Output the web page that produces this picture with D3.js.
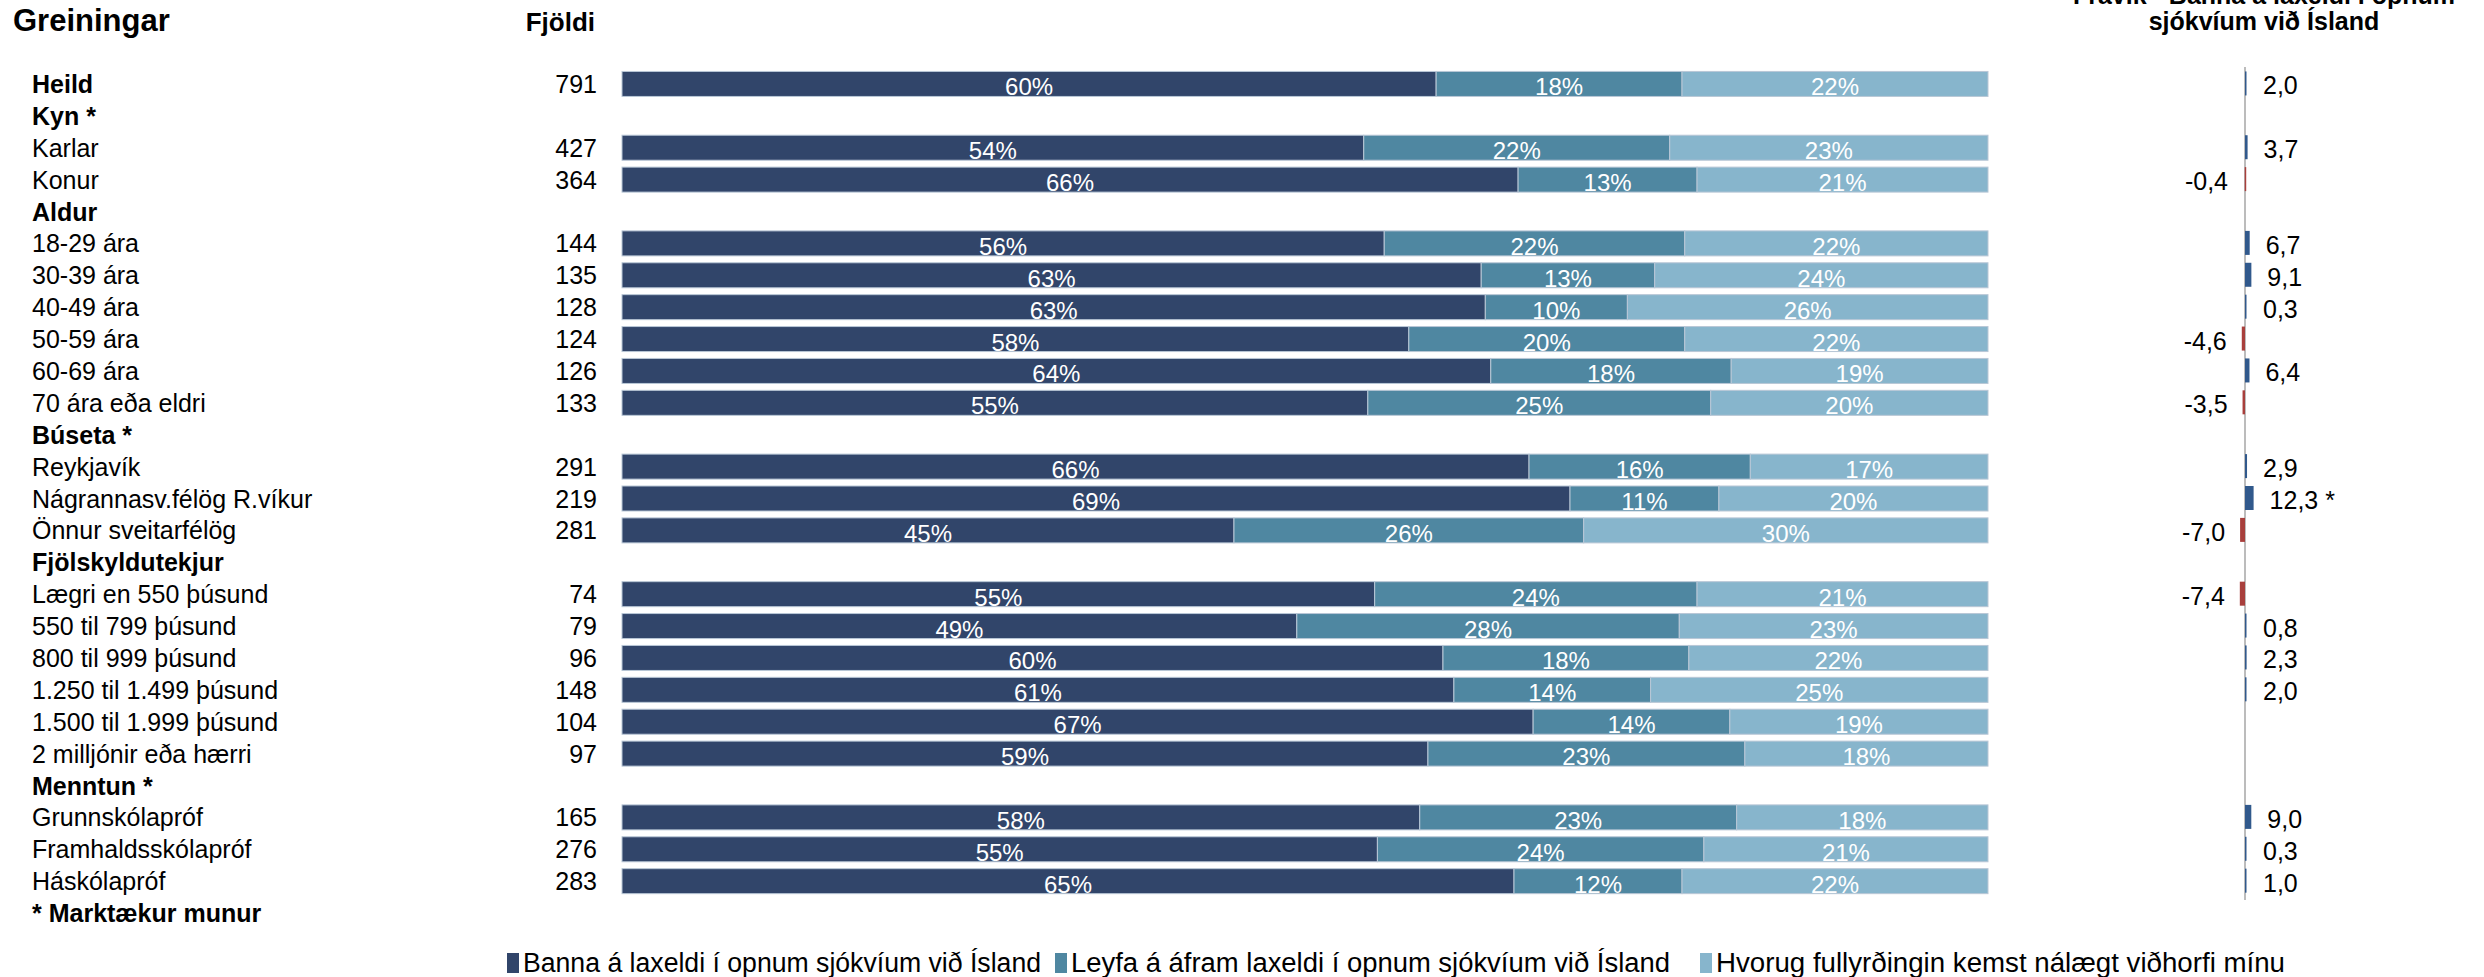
<!DOCTYPE html>
<html><head><meta charset="utf-8">
<script src="https://cdn.jsdelivr.net/npm/d3@7"></script>
<style>
html,body{margin:0;padding:0;background:#fff;}
svg{display:block;font-family:"Liberation Sans",Arial,sans-serif;}
</style></head>
<body>
<svg id="chart" width="2484" height="977"></svg>
<script>
// ---------- data ----------
const rowLabels = ["Heild","Kyn *","Karlar","Konur","Aldur","18-29 ára","30-39 ára","40-49 ára","50-59 ára","60-69 ára","70 ára eða eldri","Búseta *","Reykjavík","Nágrannasv.félög R.víkur","Önnur sveitarfélög","Fjölskyldutekjur","Lægri en 550 þúsund","550 til 799 þúsund","800 til 999 þúsund","1.250 til 1.499 þúsund","1.500 til 1.999 þúsund","2 milljónir eða hærri","Menntun *","Grunnskólapróf","Framhaldsskólapróf","Háskólapróf","* Marktækur munur"];
const boldRows = ["Heild","Kyn *","Aldur","Búseta *","Fjölskyldutekjur","Menntun *","* Marktækur munur"];
const counts = [791,null,427,364,null,144,135,128,124,126,133,null,291,219,281,null,74,79,96,148,104,97,null,165,276,283,null];
const banna  = [59.6,null,54.3,65.6,null,55.8,62.9,63.2,57.6,63.6,54.6,null,66.4,69.4,44.8,null,55.1,49.4,60.1,60.9,66.7,59.0,null,58.4,55.3,65.3,null];
const leyfa  = [18.0,null,22.4,13.1,null,22.0,12.7,10.4,20.2,17.6,25.1,null,16.2,10.9,25.6,null,23.6,28.0,18.0,14.4,14.4,23.2,null,23.2,23.9,12.3,null];
const hvorug = [22.4,null,23.3,21.3,null,22.2,24.4,26.4,22.2,18.8,20.3,null,17.4,19.7,29.6,null,21.3,22.6,21.9,24.7,18.9,17.8,null,18.4,20.8,22.4,null];
const deviation = [2.0,null,3.7,-0.4,null,6.7,9.1,0.3,-4.6,6.4,-3.5,null,2.9,12.3,-7.0,null,-7.4,0.8,2.3,2.0,null,null,null,9.0,0.3,1.0,null];
const significant = ["Nágrannasv.félög R.víkur"];
const seriesNames = ["Banna á laxeldi í opnum sjókvíum við Ísland","Leyfa á áfram laxeldi í opnum sjókvíum við Ísland","Hvorug fullyrðingin kemst nálægt viðhorfi mínu"];
const headerLeft = "Greiningar", headerCount = "Fjöldi";
const rightTitle = ["Frávik - Banna á laxeldi í opnum","sjókvíum  við Ísland"];

// ---------- layout ----------
const colors = ["#31456A","#4F87A1","#87B5CC"];
const posColor = "#31598C", negColor = "#A83F3C";
const legendX = [507, 1055, 1700];
const legendW = [518, 599, 569];
const svg = d3.select("#chart");

const rows = rowLabels.map((l,i)=>({label:l,i,count:counts[i],vals:[banna[i],leyfa[i],hvorug[i]],dev:deviation[i]}));
const y = d3.scaleBand().domain(d3.range(rows.length)).range([68,929]).padding(0);
const bh = 25;
const by = i => y(i) + (y.bandwidth()-bh)/2;
const x = d3.scaleLinear().domain([0,100]).range([622,1988]);
const x2 = d3.scaleLinear().domain([-100,100]).range([2245-70,2245+70]);

// headers
svg.append("text").attr("x",13).attr("y",31).attr("font-size",31).attr("font-weight","bold").text(headerLeft);
svg.append("text").attr("x",595).attr("y",31).attr("text-anchor","end").attr("font-size",26).attr("font-weight","bold").text(headerCount);
rightTitle.forEach((t,k)=>svg.append("text").attr("x",2264).attr("y",4+k*26).attr("text-anchor","middle")
  .attr("font-size",25).attr("font-weight","bold").text(t));

// row labels
svg.append("g").selectAll("text").data(rows).join("text")
  .attr("x",32).attr("y",d=>y(d.i)+y.bandwidth()/2+9)
  .attr("font-size",25).attr("font-weight",d=>boldRows.includes(d.label)?"bold":"normal")
  .text(d=>d.label);
svg.append("g").selectAll("text").data(rows.filter(d=>d.count!=null)).join("text")
  .attr("x",597).attr("y",d=>y(d.i)+y.bandwidth()/2+9).attr("text-anchor","end")
  .attr("font-size",25).text(d=>d.count);

// stacked bars
const segs = [];
rows.filter(d=>d.vals[0]!=null).forEach(d=>{
  const tot = d3.sum(d.vals); let c=0;
  d.vals.forEach((v,k)=>{ segs.push({i:d.i,k,v,x0:c/tot*100,x1:(c+v)/tot*100}); c+=v; });
});
const gb = svg.append("g");
gb.selectAll("rect").data(segs).join("rect")
  .attr("x",d=>x(d.x0)).attr("width",d=>x(d.x1)-x(d.x0))
  .attr("y",d=>by(d.i)).attr("height",bh)
  .attr("fill",d=>colors[d.k]).attr("stroke","#B9C7D6").attr("stroke-width",1);
gb.selectAll("text").data(segs).join("text")
  .attr("x",d=>(x(d.x0)+x(d.x1))/2).attr("y",d=>by(d.i)+bh-1)
  .attr("text-anchor","middle").attr("fill","#fff").attr("font-size",24)
  .text(d=>Math.round(d.v)+"%");

// deviation panel
const devRows = rows.filter(d=>d.dev!=null);
svg.append("line").attr("x1",x2(0)).attr("x2",x2(0)).attr("y1",67).attr("y2",900)
  .attr("stroke","#A6A6A6").attr("stroke-width",1.5);
const gd = svg.append("g");
gd.selectAll("rect").data(devRows).join("rect")
  .attr("x",d=>Math.min(x2(0),x2(d.dev))).attr("width",d=>Math.max(1.5,Math.abs(x2(d.dev)-x2(0))))
  .attr("y",d=>by(d.i)).attr("height",bh-1)
  .attr("fill",d=>d.dev>=0?posColor:negColor);
const fmt = v => d3.format(".1f")(v).replace(".",",").replace("−","-");
gd.selectAll("text").data(devRows).join("text")
  .attr("x",d=>d.dev>=0?Math.max(x2(d.dev),x2(0)+2)+16:Math.min(x2(d.dev),x2(0)-2)-15)
  .attr("y",d=>by(d.i)+bh-2)
  .attr("text-anchor",d=>d.dev>=0?"start":"end")
  .attr("font-size",25)
  .text(d=>fmt(d.dev)+(significant.includes(d.label)?"  *":""));

// legend
const lg = svg.append("g");
seriesNames.forEach((n,k)=>{
  lg.append("rect").attr("x",legendX[k]).attr("y",953).attr("width",12).attr("height",20).attr("fill",colors[k]);
  lg.append("text").attr("x",legendX[k]+16).attr("y",972).attr("font-size",27)
    .attr("textLength",legendW[k]).attr("lengthAdjust","spacingAndGlyphs").text(n);
});
</script>
</body></html>
